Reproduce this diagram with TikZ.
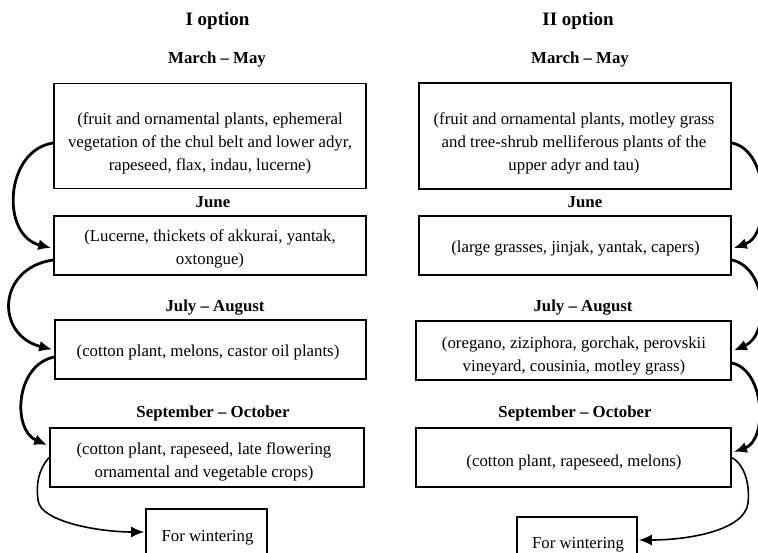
\documentclass[tikz,border=0pt]{standalone}
\usepackage{fontspec}
\setmainfont{Liberation Serif}
\usetikzlibrary{arrows.meta}
\begin{document}
\begin{tikzpicture}[x=1pt,y=-1pt,
  box/.style={draw, line width=1.7pt, inner sep=0pt},
  body/.style={font=\fontsize{16.8}{23}\selectfont, align=center, inner sep=0pt},
  head/.style={font=\fontsize{16.8}{20}\selectfont\bfseries, inner sep=0pt},
  ttl/.style={font=\fontsize{19}{22}\selectfont\bfseries, inner sep=0pt},
  flow/.style={line width=2.8pt, -{Latex[length=13pt,width=11pt]}},
  thinflow/.style={line width=1.6pt, -{Latex[length=13pt,width=11pt]}}]
\useasboundingbox (0,0) rectangle (758,553);
\clip (0,0) rectangle (758,553);
\fill[white] (0,0) rectangle (758,553);
% titles
\node[ttl] (til) at (217.5,21) {I option};
\node[ttl] (tir) at (578,21) {II option};
% headers left
\node[head] (h1l) at (217,59) {March – May};
\node[head] (h2l) at (213,202) {June};
\node[head] (h3l) at (215,308) {July – August};
\node[head] (h4l) at (213,413) {September – October};
% headers right
\node[head] (h1r) at (580,59) {March – May};
\node[head] (h2r) at (585,202) {June};
\node[head] (h3r) at (583,308) {July – August};
\node[head] (h4r) at (575,413) {September – October};
% boxes left
\node[box, minimum width=312pt, minimum height=105pt] (b1l) at (210,136) {};
\node[box, minimum width=312pt, minimum height=59pt] (b2l) at (210,245.5) {};
\node[box, minimum width=311pt, minimum height=59pt] (b3l) at (210.5,349.5) {};
\node[box, minimum width=314pt, minimum height=59pt] (b4l) at (207,457.5) {};
\node[box, minimum width=121pt, minimum height=58pt] (wl) at (206.5,538) {};
% boxes right
\node[box, minimum width=312pt, minimum height=106pt] (b1r) at (575,136) {};
\node[box, minimum width=312pt, minimum height=59pt] (b2r) at (575,245.5) {};
\node[box, minimum width=315pt, minimum height=59pt] (b3r) at (573.5,350.5) {};
\node[box, minimum width=315pt, minimum height=59pt] (b4r) at (573.5,457.5) {};
\node[box, minimum width=120pt, minimum height=56pt] (wr) at (577,545) {};
% texts left
\node[body] (t1l) at (210,143) {(fruit and ornamental plants, ephemeral\\vegetation of the chul belt and lower adyr,\\rapeseed, flax, indau, lucerne)};
\node[body] (t2l) at (210,249) {(Lucerne, thickets of akkurai, yantak,\\oxtongue)};
\node[body] (t3l) at (208,352) {(cotton plant, melons, castor oil plants)};
\node[body] (t4l) at (204,461.5) {(cotton plant, rapeseed, late flowering\\ornamental and vegetable crops)};
\node[body] (twl) at (207.5,538) {For wintering};
% texts right
\node[body] (t1r) at (574,143) {(fruit and ornamental plants, motley grass\\and tree-shrub melliferous plants of the\\upper adyr and tau)};
\node[body] (t2r) at (575.5,248) {(large grasses, jinjak, yantak, capers)};
\node[body] (t3r) at (574,355.5) {(oregano, ziziphora, gorchak, perovskii\\vineyard, cousinia, motley grass)};
\node[body] (t4r) at (574,462) {(cotton plant, rapeseed, melons)};
\node[body] (twr) at (578,545) {For wintering};
% connectors left
\draw[flow] ([yshift=-7pt]b1l.west) .. controls (5,150) and (0,235) .. ([xshift=-2pt,yshift=-2.5pt]b2l.west);
\draw[flow] ([yshift=-14.5pt]b2l.west) .. controls (-3,268) and (-5,335) .. ([xshift=-2pt]b3l.west);
\draw[flow] ([yshift=-7.5pt]b3l.west) .. controls (15,365) and (12,430) .. ([xshift=-2pt,yshift=12.5pt]b4l.west);
\draw[thinflow] (b4l.west) .. controls (38,470) and (36,485) .. (38,500) .. controls (40,522) and (100,532) .. ([xshift=-1pt,yshift=6pt]wl.west);
% connectors right
\draw[flow] ([yshift=-7pt]b1r.east) .. controls (770,150) and (772,235) .. ([xshift=2pt,yshift=-2.5pt]b2r.east);
\draw[flow] ([yshift=-14.5pt]b2r.east) .. controls (768,268) and (770,335) .. ([xshift=2pt]b3r.east);
\draw[flow] ([yshift=-12.5pt]b3r.east) .. controls (765,370) and (768,440) .. ([xshift=2pt,yshift=5.5pt]b4r.east);
\draw[thinflow] (b4r.east) .. controls (745,465) and (750,485) .. (748,503) .. controls (745,530) and (690,540) .. ([xshift=1pt,yshift=5pt]wr.east);
\end{tikzpicture}
\end{document}
